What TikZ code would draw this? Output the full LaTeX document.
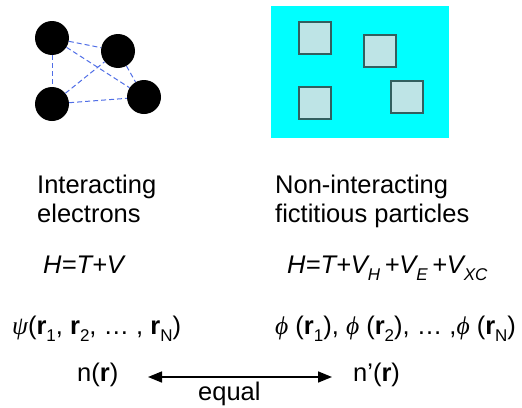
\documentclass[tikz,border=0pt]{standalone}
\usepackage{fontspec}
\setmainfont{Liberation Sans}
\newfontfamily\grk{Liberation Serif}
\usetikzlibrary{arrows.meta}
\newcommand\mysub[1]{\raisebox{-0.3em}{\fontsize{17}{17}\selectfont #1}}
\newcommand\bigtxt{\fontsize{25.5}{29}\selectfont}
\definecolor{dashblue}{RGB}{80,110,230}
\definecolor{sqfill}{RGB}{190,228,230}
\definecolor{sqdraw}{RGB}{50,95,95}
\definecolor{boxcyan}{RGB}{0,255,255}
\tikzset{
  ball/.style={circle,fill=black,minimum size=34pt,inner sep=0pt},
  link/.style={dashblue,line width=1pt,dash pattern=on 5pt off 3pt},
  sq/.style={fill=sqfill,draw=sqdraw,line width=1.3pt,minimum size=32pt,inner sep=0pt},
  txt/.style={anchor=base west,inner sep=0pt,font=\bigtxt},
  eqarrow/.style={line width=1.6pt,>={Triangle[length=14pt,width=11pt]},<->},
}
\begin{document}
\begin{tikzpicture}[x=1pt,y=-1pt]
\useasboundingbox (0,0) rectangle (522,407);
% electrons
\node[ball] (b1) at (52,38) {};
\node[ball] (b2) at (118,51) {};
\node[ball] (b3) at (52,104) {};
\node[ball] (b4) at (144,97) {};
\draw[link] (b1) -- (b2);
\draw[link] (b1) -- (b3);
\draw[link] (b1) -- (b4);
\draw[link] (b3) -- (b2);
\draw[link] (b3) -- (b4);
\draw[link] (b2) -- (b4);
% box
\node[fill=boxcyan,minimum width=178pt,minimum height=132pt,inner sep=0pt,anchor=north west] (box) at (271,6) {};
\node[sq] (s1) at (315,38) {};
\node[sq] (s2) at (380,51) {};
\node[sq] (s3) at (315,103) {};
\node[sq] (s4) at (407,97) {};
% texts
\node[txt] (l1) at (37,193) {Interacting};
\node[txt] (l2) at (37,222) {electrons};
\node[txt] (r1) at (275,193) {Non-interacting};
\node[txt] (r2) at (275,222) {fictitious particles};
\node[txt] (hl) at (43,273) {\itshape H=T+V};
\node[txt] (hr) at (287,273) {\itshape H=T+V\mysub{H}\,+V\mysub{E}\,+V\mysub{XC}};
\node[txt] (psi) at (12,334) {{\grk\itshape ψ}(\textbf{r}\mysub{1}, \textbf{r}\mysub{2}, … , \textbf{r}\mysub{N})};
\node[txt] (phi) at (275,334) {{\grk\itshape ϕ} (\textbf{r}\mysub{1}), {\grk\itshape ϕ} (\textbf{r}\mysub{2}), … ,{\grk\itshape ϕ} (\textbf{r}\mysub{N})};
\node[txt] (n) at (77,381) {n(\textbf{r})};
\node[txt] (np) at (353,381) {n’(\textbf{r})};
\coordinate (aL) at (148,377);
\coordinate (aR) at (332,377);
\draw[eqarrow] (aL) -- (aR);
\node[txt] (eq) at (198,400) {equal};
\end{tikzpicture}
\end{document}
